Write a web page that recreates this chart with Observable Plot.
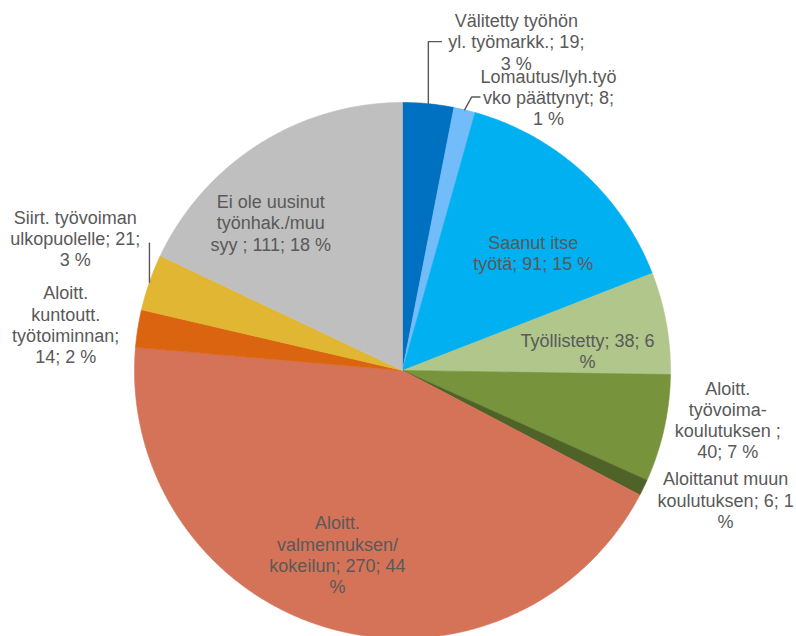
<!DOCTYPE html>
<html>
<head>
<meta charset="utf-8">
<script src="https://cdn.jsdelivr.net/npm/d3@7"></script>
<script src="https://cdn.jsdelivr.net/npm/@observablehq/plot@0.6"></script>
<style>
  html, body { margin: 0; padding: 0; background: #fff; }
  #chart { width: 796px; height: 636px; overflow: hidden; }
</style>
</head>
<body>
<div id="chart"></div>
<script>
// ---- data ----
const categories = [
  "Välitetty työhön yl. työmarkk.",
  "Lomautus/lyh.työvko päättynyt",
  "Saanut itse työtä",
  "Työllistetty",
  "Aloitt. työvoima-koulutuksen ",
  "Aloittanut muun koulutuksen",
  "Aloitt. valmennuksen/ kokeilun",
  "Aloitt. kuntoutt. työtoiminnan",
  "Siirt. työvoiman ulkopuolelle",
  "Ei ole uusinut työnhak./muu syy "
];
const values = [19, 8, 91, 38, 40, 6, 270, 14, 21, 111];
const percents = [3, 1, 15, 6, 7, 1, 44, 2, 3, 18];
const colors = ["#0070C0", "#72BCF9", "#00B0F0", "#B0C68A", "#77933C", "#4F6228",
                "#D57358", "#DA640F", "#E0B632", "#BFBFBF"];

// ---- layout (label placement, polar: degrees clockwise from top, radius px) ----
const labelAngle = [19.1, 28.1, 48, 83.8, 98.6, 111.8, 199.5, 277.8, 292, 318.3];
const labelRadius = [348, 310, 176, 186, 329, 348, 195, 340, 353, 198];
const wrapWidth = [141, 140, 128, 145, 115, 145, 145, 113, 137, 131];

const R = 268;
const FONT = 18;
const LH = 1.18;
const total = d3.sum(values);

const ctx = document.createElement("canvas").getContext("2d");
ctx.font = `${FONT}px 'Liberation Sans'`;
const measure = (s) => ctx.measureText(s).width;

function wrap(text, w) {
  const parts = [];
  text.split(" ").forEach((word) => {
    word.split(/(?<=-)/).forEach((p, j) => { if (p) parts.push({sep: j === 0 ? " " : "", p}); });
  });
  const lines = [];
  let line = "";
  for (const {sep, p} of parts) {
    const cand = line ? line + sep + p : p;
    if (measure(cand) <= w) { line = cand; continue; }
    if (line) lines.push(line);
    if (measure(p) <= w) { line = p; }
    else {
      let cur = "";
      for (const ch of p) {
        if (measure(cur + ch) <= w) cur += ch;
        else { lines.push(cur); cur = ch; }
      }
      line = cur;
    }
  }
  if (line) lines.push(line);
  return lines;
}

const polar = (deg, r) => {
  const a = deg * Math.PI / 180;
  return [r * Math.sin(a), r * Math.cos(a)];
};

// slices
let cum = 0;
const slicePts = [];
const slices = categories.map((c, i) => {
  const a0 = cum / total * 360;
  cum += values[i];
  const a1 = cum / total * 360;
  slicePts.push({key: c, color: colors[i], x: 0, y: 0});
  const n = Math.max(2, Math.ceil((a1 - a0) / 0.5));
  for (let k = 0; k <= n; k++) {
    const [x, y] = polar(a0 + (a1 - a0) * k / n, R);
    slicePts.push({key: c, color: colors[i], x, y});
  }
  slicePts.push({key: c, color: colors[i], x: 0, y: 0});
  return {a0, a1, mid: (a0 + a1) / 2};
});

// labels
const labels = categories.map((c, i) => {
  const lines = wrap(`${c}; ${values[i]}; ${percents[i]} %`, wrapWidth[i]);
  const [x, y] = polar(labelAngle[i], labelRadius[i]);
  return {x, y, lines, text: lines.join("\n")};
});

// leader lines
const leaders = [];
{
  // Välitetty
  const L = labels[0];
  const [sx, sy] = polar(slices[0].mid, R);
  const left = L.x - measure(L.lines[1]) / 2;
  [[sx, sy], [sx, L.y], [left - 7, L.y]].forEach(([x, y]) => leaders.push({k: 0, x, y}));
}
{
  // Lomautus
  const L = labels[1];
  const [sx, sy] = polar(slices[1].mid, R);
  const left = L.x - measure(L.lines[1]) / 2;
  [[sx, sy], [sx + 7, L.y], [left - 3, L.y]].forEach(([x, y]) => leaders.push({k: 1, x, y}));
}
{
  // Siirt.
  const L = labels[8];
  const [sx, sy] = polar(slices[8].mid, R);
  [[sx, sy], [sx, L.y - 5]].forEach(([x, y]) => leaders.push({k: 8, x, y}));
}

const chart = Plot.plot({
  width: 796,
  height: 636,
  margin: 0,
  x: {domain: [-402, 394], axis: null},
  y: {domain: [-266, 370], axis: null},
  color: {type: "identity"},
  marks: [
    Plot.line(slicePts, {x: "x", y: "y", z: "key", fill: "color", stroke: "color", strokeWidth: 0.6, curve: "linear"}),
    Plot.line(leaders, {x: "x", y: "y", z: "k", stroke: "#595959", strokeWidth: 1.4, curve: "linear"}),
    Plot.text(labels, {x: "x", y: "y", text: "text", fontSize: FONT, lineHeight: LH,
      fill: "#595959", fontFamily: "'Liberation Sans', Arial, sans-serif", textAnchor: "middle", lineAnchor: "middle"})
  ]
});
document.getElementById("chart").appendChild(chart);
</script>
</body>
</html>
